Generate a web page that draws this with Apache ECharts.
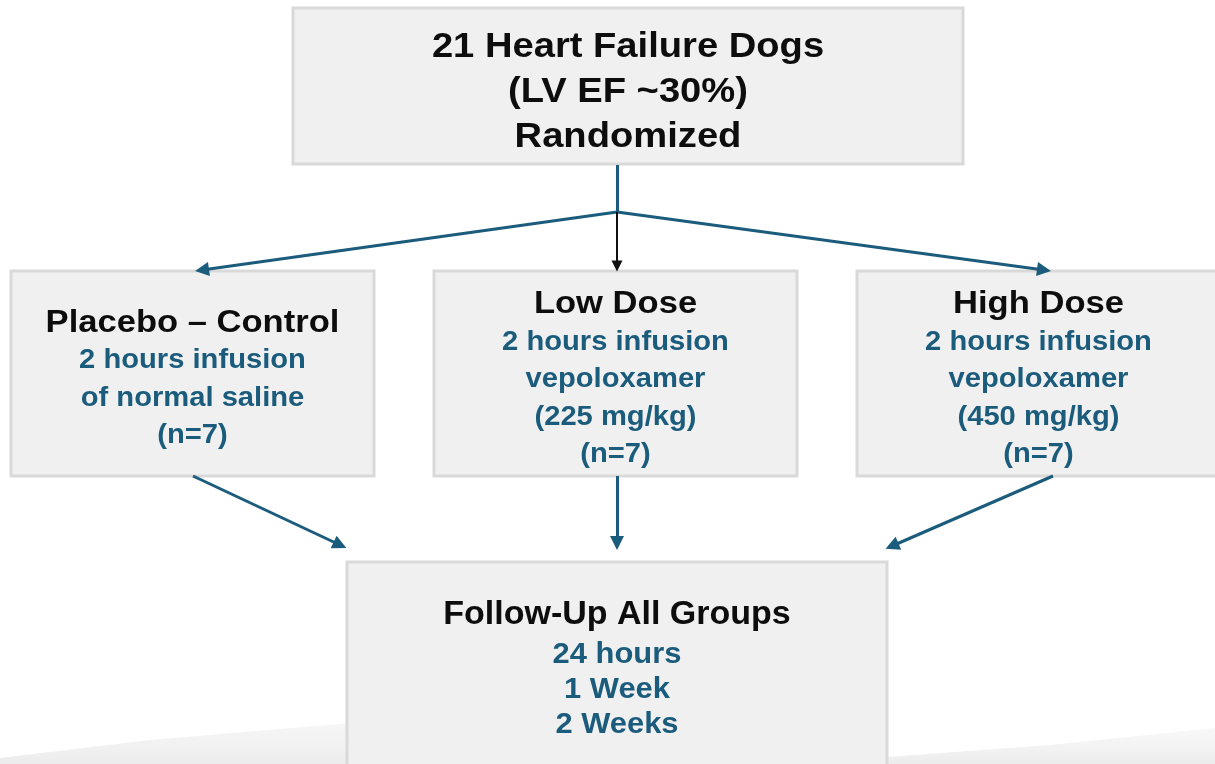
<!DOCTYPE html>
<html>
<head>
<meta charset="utf-8">
<title>Study design</title>
<script src="https://cdn.jsdelivr.net/npm/echarts@6/dist/echarts.min.js"></script>
<style>
  html, body { margin: 0; padding: 0; background: #fff; }
  #chart { width: 1215px; height: 764px; }
</style>
</head>
<body>
<div id="chart"></div>
<script>
// boxes of the flow diagram
const boxTitles = [
  ['21 Heart Failure Dogs', '(LV EF ~30%)', 'Randomized'],
  ['Placebo – Control'],
  ['Low Dose'],
  ['High Dose'],
  ['Follow-Up All Groups']
]
const boxDetails = [
  [],
  ['2 hours infusion', 'of normal saline', '(n=7)'],
  ['2 hours infusion', 'vepoloxamer', '(225 mg/kg)', '(n=7)'],
  ['2 hours infusion', 'vepoloxamer', '(450 mg/kg)', '(n=7)'],
  ['24 hours', '1 Week', '2 Weeks']
]
const boxLeft = [293, 11, 434, 857, 347]
const boxTop = [8, 271, 271, 271, 562]
const boxRight = [963, 374, 797, 1220, 887]
const boxBottom = [164, 476, 476, 476, 776]

// connectors: [from, to]
const trunkLine = [[617, 165], [617, 212]]
const blueArrows = [
  [[617, 212], [202, 270]],
  [[617, 212], [1044, 270]],
  [[193, 476], [340, 545]],
  [[617, 476], [617, 543]],
  [[1053, 476], [892, 546]]
]
const blackArrows = [
  [[617, 212], [617, 266]]
]

const BLUE = '#1b5b7c'
// text size per box kind: top, groups, follow-up
const textStyles = [
  { title: 35, titleLh: 45, detail: 0, detailLh: 0, sx: 1.09, dy: 6 },
  { title: 32, titleLh: 38, detail: 27, detailLh: 37.5, sx: 1.08, dy: 6 },
  { title: 32, titleLh: 38, detail: 27, detailLh: 37.5, sx: 1.08, dy: 6 },
  { title: 32, titleLh: 38, detail: 27, detailLh: 37.5, sx: 1.08, dy: 6 },
  { title: 33, titleLh: 45, detail: 30, detailLh: 35, sx: 1.03, dy: -1.5 }
]

const chart = echarts.init(document.getElementById('chart'))

const textEl = (t, x, y, size, color, sx) => ({
  type: 'text', x, y, scaleX: sx,
  style: {
    text: t, fill: color, align: 'center', verticalAlign: 'middle',
    fontFamily: 'Liberation Sans', fontWeight: 'bold', fontSize: size
  }
})

const renderBox = (params, api) => {
  const i = params.dataIndex
  const p0 = api.coord([api.value(0), api.value(1)])
  const p1 = api.coord([api.value(2), api.value(3)])
  const st = textStyles[i]
  const titles = boxTitles[i]
  const details = boxDetails[i]
  const total = titles.length * st.titleLh + details.length * st.detailLh
  const cx = (p0[0] + p1[0]) / 2
  let y = (p0[1] + p1[1]) / 2 - total / 2 + st.dy
  const children = [{
    type: 'rect',
    shape: { x: p0[0], y: p0[1], width: p1[0] - p0[0], height: p1[1] - p0[1] },
    style: { fill: '#f0f0f0', stroke: '#d9d9d9', lineWidth: 3 }
  }]
  titles.forEach(t => {
    children.push(textEl(t, cx, y + st.titleLh / 2, st.title, '#0d0d0d', st.sx))
    y += st.titleLh
  })
  details.forEach(t => {
    children.push(textEl(t, cx, y + st.detailLh / 2, st.detail, BLUE, st.sx))
    y += st.detailLh
  })
  return { type: 'group', children }
}

const swooshFill = new echarts.graphic.LinearGradient(0, 0, 0, 1, [
  { offset: 0, color: 'rgba(244,244,244,0.6)' },
  { offset: 1, color: 'rgba(236,236,236,1)' }
])

chart.setOption({
  backgroundColor: '#fff',
  animation: false,
  graphic: [
    // faint slide swooshes at the bottom
    {
      type: 'polygon', z: -10, silent: true,
      shape: { points: [[0, 764], [0, 758], [150, 740], [350, 723], [600, 712], [600, 764]] },
      style: { fill: swooshFill }
    },
    {
      type: 'polygon', z: -10, silent: true,
      shape: { points: [[887, 764], [887, 757], [1050, 745], [1215, 728], [1215, 764]] },
      style: { fill: swooshFill }
    }
  ],
  grid: { left: 0, right: 0, top: 0, bottom: 0 },
  xAxis: { type: 'value', min: 0, max: 1215, show: false },
  yAxis: { type: 'value', min: 0, max: 764, inverse: true, show: false },
  series: [
    {
      type: 'custom',
      renderItem: renderBox,
      clip: false,
      data: boxLeft.map((l, i) => [l, boxTop[i], boxRight[i], boxBottom[i]])
    },
    {
      type: 'lines', coordinateSystem: 'cartesian2d', z: 3,
      lineStyle: { color: BLUE, width: 3, opacity: 1 },
      symbol: ['none', 'none'],
      data: [{ coords: trunkLine }]
    },
    {
      type: 'lines', coordinateSystem: 'cartesian2d', z: 3,
      lineStyle: { color: BLUE, width: 3, opacity: 1 },
      symbol: ['none', 'triangle'], symbolSize: 14,
      data: blueArrows.map(c => ({ coords: c }))
    },
    {
      type: 'lines', coordinateSystem: 'cartesian2d', z: 4,
      lineStyle: { color: '#111', width: 2, opacity: 1 },
      symbol: ['none', 'triangle'], symbolSize: 11,
      data: blackArrows.map(c => ({ coords: c }))
    }
  ]
})
</script>
</body>
</html>
